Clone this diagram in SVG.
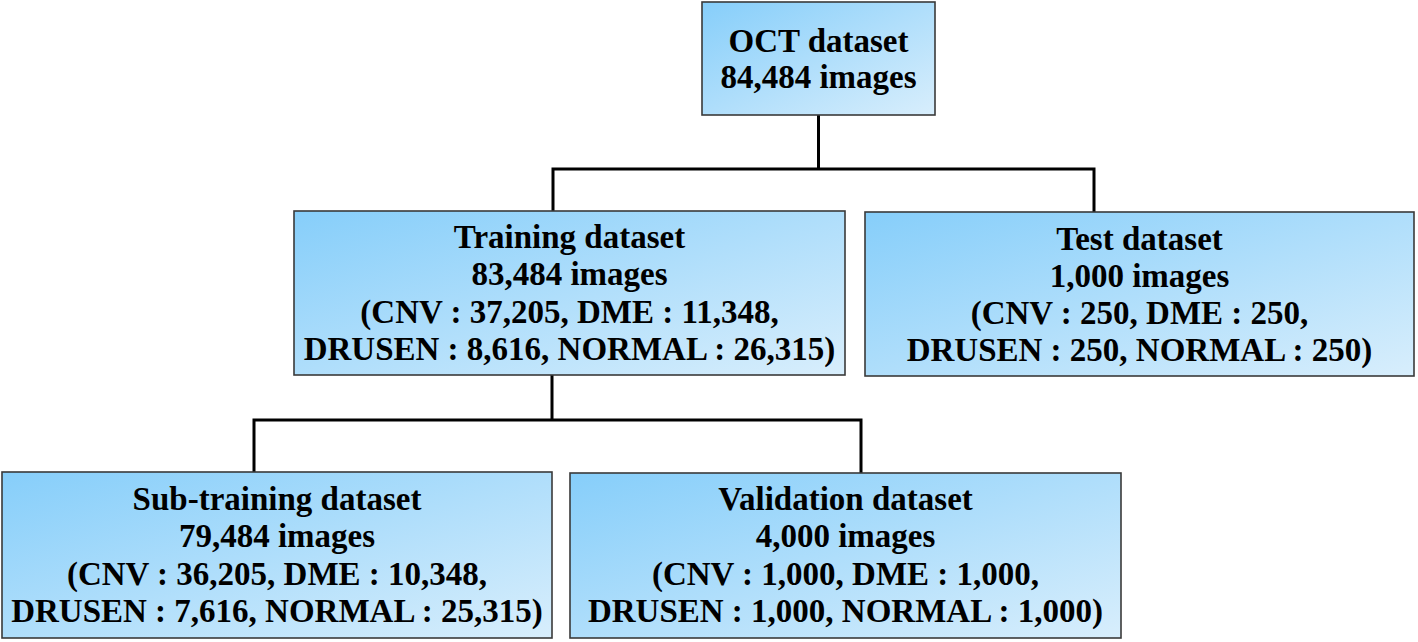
<svg xmlns="http://www.w3.org/2000/svg" width="1418" height="642" viewBox="0 0 1418 642">
<defs>
<linearGradient id="g" x1="0" y1="0" x2="1" y2="1">
<stop offset="0" stop-color="#86cefa"/>
<stop offset="1" stop-color="#d8eefc"/>
</linearGradient>
<style>
.box{fill:url(#g);stroke:#3a3a3a;stroke-width:1.6}
.t{font-family:'Liberation Serif',serif;font-weight:700;font-size:33px;fill:#000;text-anchor:middle}
.c{fill:none;stroke:#000;stroke-width:3}
</style>
</defs>
<g id="connectors">
<path class="c" d="M818.5 115 V169 M553 211 V169 H1094 V212"/>
<path class="c" d="M552 375 V420 M254 472 V420 H861 V473"/>
</g>
<g id="oct">
<rect class="box" x="702" y="2" width="233" height="113"/>
<text class="t" x="818.5" y="52">OCT dataset</text>
<text class="t" x="818.5" y="88">84,484 images</text>
</g>
<g id="training">
<rect class="box" x="294" y="211" width="551" height="164"/>
<text class="t" x="569.5" y="248">Training dataset</text>
<text class="t" x="569.5" y="285">83,484 images</text>
<text class="t" x="569.5" y="323">(CNV : 37,205, DME : 11,348,</text>
<text class="t" x="569.5" y="360">DRUSEN : 8,616, NORMAL : 26,315)</text>
</g>
<g id="test">
<rect class="box" x="865" y="212" width="549" height="164"/>
<text class="t" x="1139.5" y="250">Test dataset</text>
<text class="t" x="1139.5" y="287">1,000 images</text>
<text class="t" x="1139.5" y="324">(CNV : 250, DME : 250,</text>
<text class="t" x="1139.5" y="361">DRUSEN : 250, NORMAL : 250)</text>
</g>
<g id="subtraining">
<rect class="box" x="2" y="472" width="550" height="166"/>
<text class="t" x="277" y="510">Sub-training dataset</text>
<text class="t" x="277" y="547">79,484 images</text>
<text class="t" x="277" y="585">(CNV : 36,205, DME : 10,348,</text>
<text class="t" x="277" y="622">DRUSEN : 7,616, NORMAL : 25,315)</text>
</g>
<g id="validation">
<rect class="box" x="570" y="473" width="551" height="165"/>
<text class="t" x="845.5" y="510">Validation dataset</text>
<text class="t" x="845.5" y="547">4,000 images</text>
<text class="t" x="845.5" y="585">(CNV : 1,000, DME : 1,000,</text>
<text class="t" x="845.5" y="622">DRUSEN : 1,000, NORMAL : 1,000)</text>
</g>
</svg>
